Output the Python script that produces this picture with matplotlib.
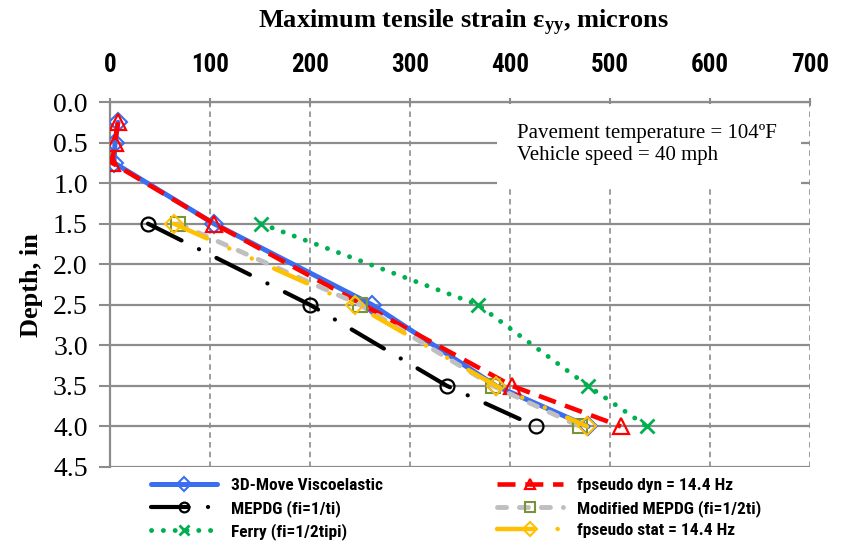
import matplotlib
matplotlib.use("Agg")
import matplotlib.pyplot as plt
from matplotlib import font_manager
from matplotlib.patches import Rectangle

# ---- data -------------------------------------------------------------
depth_move = [0.25, 0.5, 0.75, 1.5, 2.5, 3.5, 4.0]
strain_move = [8, 5, 4, 104, 262, 386, 478]

depth_dyn = [0.25, 0.5, 0.75, 1.5, 3.5, 4.0]
strain_dyn = [8, 5, 2, 104, 402, 511]

depth_main = [1.5, 2.5, 3.5, 4.0]
strain_mepdg = [38, 200, 337, 426]
strain_mod_mepdg = [68, 250, 383, 470]
strain_ferry = [151, 368, 478, 537]
strain_stat = [64, 245, 386, 477]

x_ticks = [0, 100, 200, 300, 400, 500, 600, 700]
y_ticks = [0.0, 0.5, 1.0, 1.5, 2.0, 2.5, 3.0, 3.5, 4.0, 4.5]

labels = {
    "move": "3D-Move Viscoelastic",
    "dyn": "fpseudo dyn = 14.4 Hz",
    "mepdg": "MEPDG (fi=1/ti)",
    "mod": "Modified MEPDG (fi=1/2ti)",
    "ferry": "Ferry (fi=1/2tipi)",
    "stat": "fpseudo stat = 14.4 Hz",
}
note = "Pavement temperature = 104ºF\nVehicle speed = 40 mph"

# ---- fonts ------------------------------------------------------------
available = {f.name for f in font_manager.fontManager.ttflist}


def pick(cands):
    for c in cands:
        if c in available:
            return c
    return "DejaVu Sans"


narrow = pick(["Liberation Sans Narrow", "Roboto Condensed", "Open Sans Condensed",
               "DejaVu Sans Condensed", "Roboto", "DejaVu Sans"])
serif = pick(["Liberation Serif", "DejaVu Serif"])

plt.rcParams["mathtext.fontset"] = "custom"
plt.rcParams["mathtext.rm"] = serif
plt.rcParams["mathtext.bf"] = serif + ":bold"
plt.rcParams["mathtext.it"] = serif + ":bold"
plt.rcParams["lines.scale_dashes"] = False

# ---- figure -----------------------------------------------------------
fig = plt.figure(figsize=(8.45, 5.42), dpi=100)
ax = fig.add_axes([110 / 845, 1 - 467 / 542, 700 / 845, 365 / 542])

grid_gray = "#8C8C8C"

# series, drawn in this order (later ones on top)
l_move, = ax.plot(strain_move, depth_move, color="#3A6DF0", lw=3.6,
                  marker="D", ms=9.5, mfc="none", mec="#3A6DF0", mew=1.5,
                  solid_capstyle="round", label=labels["move"], zorder=3)
l_dyn, = ax.plot(strain_dyn, depth_dyn, color="#FF0000", lw=3.3,
                 dashes=(13, 7), dash_capstyle="butt",
                 marker="^", ms=11, mfc="none", mec="#FF0000", mew=1.6,
                 label=labels["dyn"], zorder=4)
l_mepdg, = ax.plot(strain_mepdg, depth_main, color="black", lw=3.0,
                   dashes=(27, 14, 0.1, 14), dash_capstyle="round",
                   marker="o", ms=10, mfc="none", mec="black", mew=1.6,
                   label=labels["mepdg"], zorder=5)
l_mod, = ax.plot(strain_mod_mepdg, depth_main, color="#BFBFBF", lw=3.5,
                 dashes=(6.5, 9.3), dash_capstyle="round",
                 marker="s", ms=9.5, mfc="none", mec="#77933C", mew=1.5,
                 label=labels["mod"], zorder=6)
l_ferry, = ax.plot(strain_ferry, depth_main, color="#00B050", lw=3.5,
                   dashes=(0.1, 8.4), dash_capstyle="round",
                   marker="x", ms=10, mec="#00B050", mew=2.0,
                   label=labels["ferry"], zorder=7)
l_stat, = ax.plot(strain_stat, depth_main, color="#FFC000", lw=3.2,
                  dashes=(26, 17.6, 0.1, 17.6, 0.1, 17.6), dash_capstyle="round",
                  marker="D", ms=9.5, mfc="none", mec="#FFC000", mew=1.5,
                  label=labels["stat"], zorder=8)

# axes ranges and ticks
ax.set_xlim(0, 700)
ax.set_ylim(4.5, 0)
ax.set_xticks(x_ticks)
ax.set_yticks(y_ticks)
ax.set_yticklabels([f"{v:.1f}" for v in y_ticks])
ax.xaxis.tick_top()
ax.xaxis.set_label_position("top")

ax.tick_params(axis="x", direction="inout", length=6, width=1.5, color=grid_gray,
               pad=15, labelsize=18)
ax.tick_params(axis="y", direction="out", length=8, width=1.5, color=grid_gray,
               pad=8, labelsize=20)
for t in ax.get_xticklabels():
    t.set_fontfamily(narrow)
    t.set_fontweight("bold")
for t in ax.get_yticklabels():
    t.set_fontfamily(serif)

# grid: solid horizontals, dashed verticals
ax.set_axisbelow(True)
ax.yaxis.grid(True, color=grid_gray, lw=1.6, ls="-")
ax.xaxis.grid(True, color=grid_gray, lw=1.2, ls=(0, (4, 3)))

for side in ("right", "bottom"):
    ax.spines[side].set_visible(False)
for side in ("top", "left"):
    ax.spines[side].set_color(grid_gray)
    ax.spines[side].set_linewidth(1.6)

# titles
fig.text(463 / 845, 1 - 23 / 542,
         r"Maximum tensile strain $\mathbf{ε_{yy}}$, microns",
         ha="center", va="center", fontsize=19, fontweight="bold", family=serif)
fig.text(32 / 845, 1 - 285 / 542, "Depth, in", rotation=90,
         ha="center", va="center", fontsize=19, fontweight="bold", family=serif)

# annotation panel
ax.add_patch(Rectangle((387, 0.03), 304, 1.03, facecolor="white",
                       edgecolor="none", zorder=1))
ax.text(407, 0.52, note, ha="left", va="center", fontsize=15, family=serif,
        linespacing=1.2, zorder=2)

# legend (two columns, filled column-wise)
handles = [l_move, l_mepdg, l_ferry, l_dyn, l_mod, l_stat]
fig.legend(handles=handles, labels=[h.get_label() for h in handles],
           loc="upper left", bbox_to_anchor=(151 / 845, 1 - 478 / 542),
           ncol=2, frameon=False, numpoints=1, markerscale=0.7,
           handlelength=3.8, handletextpad=0.8, columnspacing=6.6,
           labelspacing=0.38, borderpad=0, borderaxespad=0,
           prop={"family": narrow, "weight": "bold", "size": 12.5})

fig.savefig("out.png", dpi=100)
